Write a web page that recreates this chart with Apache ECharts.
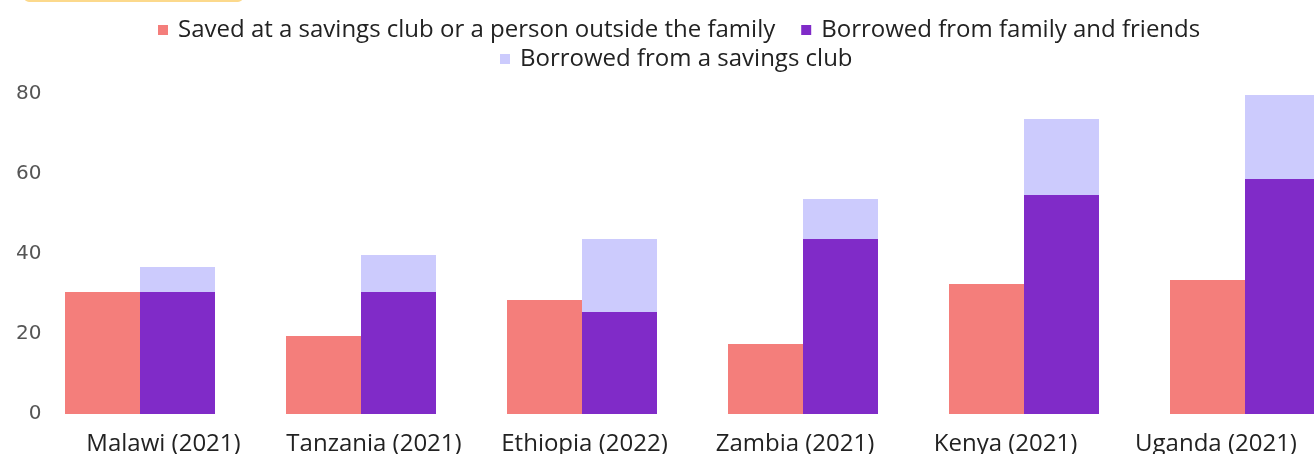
<!DOCTYPE html>
<html>
<head>
<meta charset="utf-8">
<script src="https://cdn.jsdelivr.net/npm/echarts@6/dist/echarts.min.js"></script>
<style>
html,body{margin:0;padding:0;background:#fff;}
#c{width:1314px;height:454px;}
</style>
</head>
<body>
<div id="c"></div>
<script>
var categories = ['Malawi (2021)', 'Tanzania (2021)', 'Ethiopia (2022)', 'Zambia (2021)', 'Kenya (2021)', 'Uganda (2021)'];
var savedClub = [30.5, 19.5, 28.5, 17.5, 32.5, 33.5];
var borrowedFamily = [30.5, 30.5, 25.5, 43.75, 54.75, 58.75];
var borrowedClub = [6.25, 9.25, 18.25, 10, 19, 21];
var yTicks = [0, 20, 40, 60, 80];

var FONT = 'Open Sans';
var chart = echarts.init(document.getElementById('c'), null, {renderer: 'canvas'});
chart.setOption({
  animation: false,
  backgroundColor: '#fff',
  graphic: [{
    type: 'rect', shape: {x: 24, y: -9, width: 219, height: 11, r: 5},
    style: {fill: '#FCD98C'}, silent: true
  }],
  legend: [{
    data: ['Saved at a savings club or a person outside the family', 'Borrowed from family and friends'],
    top: 18, left: 158, padding: 0,
    icon: 'rect', itemWidth: 10, itemHeight: 10, itemGap: 26,
    textStyle: {fontFamily: FONT, fontSize: 24, color: '#222', padding: [0, 0, 0, 5]}
  }, {
    data: ['Borrowed from a savings club'],
    top: 47, left: 500, padding: 0,
    icon: 'rect', itemWidth: 10, itemHeight: 10,
    textStyle: {fontFamily: FONT, fontSize: 24, color: '#222', padding: [0, 0, 0, 5]}
  }],
  grid: [
    {left: 29.5, width: 1326, top: 94, height: 320, outerBoundsMode: 'none'},
    {left: 58.25, width: 1263, top: 94, height: 320, outerBoundsMode: 'none'}
  ],
  xAxis: [{
    type: 'category', data: categories, gridIndex: 0,
    axisLine: {show: false}, axisTick: {show: false}, axisLabel: {show: false}
  }, {
    type: 'category', data: categories, gridIndex: 1,
    axisLine: {show: false}, axisTick: {show: false},
    axisLabel: {fontFamily: FONT, fontSize: 24, color: '#222', margin: 18, interval: 0}
  }],
  yAxis: [{
    type: 'value', gridIndex: 0, min: 0, max: 80, interval: 20, offset: -12,
    axisLine: {show: false}, axisTick: {show: false}, splitLine: {show: false},
    axisLabel: {fontFamily: 'DejaVu Sans', fontSize: 20, color: '#555', margin: 0,
      formatter: function (v) { return yTicks.indexOf(v) >= 0 ? String(v) : ''; }}
  }, {
    type: 'value', gridIndex: 1, min: 0, max: 80, show: false
  }],
  series: [{
    name: 'Saved at a savings club or a person outside the family',
    type: 'bar', data: savedClub, barWidth: 75, barGap: '0%',
    itemStyle: {color: '#F47E7B'}
  }, {
    name: 'Borrowed from family and friends',
    type: 'bar', stack: 'b', data: borrowedFamily, barWidth: 75, barGap: '0%',
    itemStyle: {color: '#802BC8'}
  }, {
    name: 'Borrowed from a savings club',
    type: 'bar', stack: 'b', data: borrowedClub, barWidth: 75, barGap: '0%',
    itemStyle: {color: '#CCCBFD'}
  }]
});
</script>
</body>
</html>
